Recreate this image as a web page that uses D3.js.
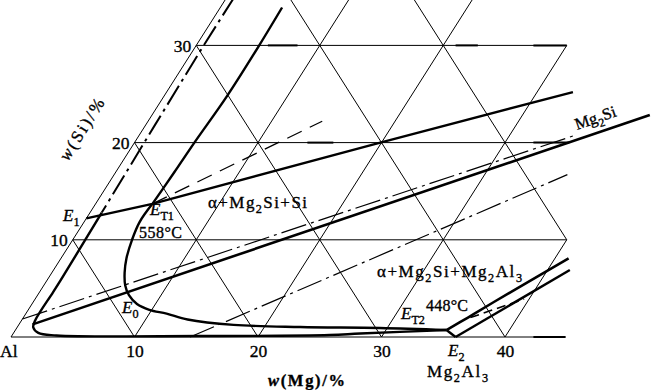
<!DOCTYPE html>
<html><head><meta charset="utf-8">
<script src="https://cdn.jsdelivr.net/npm/d3@7/dist/d3.min.js"></script>
<style>body{margin:0;background:#fff}svg{display:block}text{font-family:"Liberation Serif","DejaVu Serif",serif;fill:#000;stroke:#000;stroke-width:0.35px}</style>
</head><body>
<svg id="c" width="651" height="390"></svg>
<script>
// ---- data (w(Mg) %, w(Si) %) ----
const mgTicks = [10, 20, 30, 40];
const siTicks = [10, 20, 30];
const gridLines = [
  [[0,0],[44.9,0]], [[0,10],[40,10]], [[0,20],[35.2,20]], [[0,30],[30,30]],
  [[0,0],[0,35]], [[10,0],[10,35]], [[20,0],[20,35]], [[30,0],[30,30]], [[40,0],[40,10]],
  [[10,0],[0,10]], [[20,0],[0,20]], [[30,0],[0,30]], [[40,0],[5,35]], [[40,10],[15,35]]
];
const gridAccents = [
  [[5.8,30],[8.2,30]], [[21,30],[22.8,30]], [[27.3,30],[30,30]],
  [[14,20],[16.1,20]], [[32.3,20],[35.2,20]], [[42.3,0],[44.9,0]]
];
const leftDashDot = [[0.6,35],[0.6,30],[0.75,21.8],[0.95,12.8]];
const alphaBoundary = [[0.95,12.8],[1.1,5.9],[1.1,4.6],[1.1,1.75],[1.3,1.0],[2.0,0.42],[3.6,0.16],[15.2,0.1],[25.7,0.2],[28.1,0.36],[34.9,0.72]];
const e1Line = [[0,12.2],[4.6,13.7],[19.9,20],[32.9,25.2]];
const siLine = [[4.6,13.7],[4.75,17],[4.85,20],[5.1,24.7],[5.1,29.8],[5.0,33.9]];
const et1Curve = [[4.6,13.7],[4.5,11.8],[4.8,10.0],[5.3,8.1],[5.9,6.6],[6.6,5.3],[7.4,4.3],[8.5,3.4],[9.8,2.8],[11.4,2.4],[13.4,1.8],[17.4,1.25],[22.9,1.03],[29.4,0.93],[34.9,0.72]];
const et2E2 = [[34.9,0.72],[36.0,0]];
const lineA = [[34.9,0.72],[36.0,2.0],[37.3,3.6],[41.1,8.1]];
const lineB = [[36.0,0],[41.8,6.9]];
const dashMid = [[36.2,2.0],[39.6,3.9]];
const mg2siLine = [[1.1,1.3],[40.3,22.85]];
const ddUpper = [[0,1.85],[35.2,20.7]];
const ddLower = [[14.5,0],[36.7,16.7]];
const dashET1 = [[4.6,13.7],[14.1,22.2]];

// ---- scales ----
const xs = d3.scaleLinear().domain([0,45]).range([11, 11 + 45*12.35]);
const ys = d3.scaleLinear().domain([0,30]).range([337, 337 - 30*9.72]);
const px = d => xs(d[0] + d[1]/2), py = d => ys(d[1]);
const lin = d3.line().x(px).y(py);
const smooth = d3.line().x(px).y(py).curve(d3.curveCatmullRom.alpha(0.5));

const svg = d3.select('#c');
const g = svg.append('g').attr('fill','none').attr('stroke','#000').attr('stroke-linecap','butt');

g.selectAll('.grid').data(gridLines).join('path').attr('d', lin).attr('stroke-width', 1);
g.selectAll('.acc').data(gridAccents).join('path').attr('d', lin).attr('stroke-width', 2);

function draw(data, w, dash, curve){
  g.append('path').attr('d', (curve ? smooth : lin)(data)).attr('stroke-width', w)
   .attr('stroke-dasharray', dash || null).attr('stroke-linejoin','round');
}
draw(leftDashDot, 2, '22,5,3,5');
draw(alphaBoundary, 2.4, null, true);
draw(e1Line, 2.4);
draw(siLine, 2.4, null, true);
draw(et1Curve, 2.4, null, true);
draw(et2E2, 2.4);
draw(lineA, 2.6, null, true);
draw(lineB, 2.4);
draw(dashMid, 1.6, '9,5');
draw(mg2siLine, 2.6);
draw(ddUpper, 1.2, '26,5,3,5');
draw(ddLower, 1.2, '26,5,3,5');
draw(dashET1, 1.3, '16,9');

// ---- axes ----
const ax = svg.append('g').attr('transform','translate(0,337)')
  .call(d3.axisBottom(xs).tickValues(mgTicks).tickSize(0).tickPadding(7.5));
ax.select('.domain').remove();
ax.selectAll('text').attr('font-size', 17.5).attr('font-family','"Liberation Serif",serif')
  .attr('fill','#000').attr('stroke','#000').attr('stroke-width',0.35);

svg.selectAll('.sitick').data(siTicks).join('text')
  .attr('x', d => px([0,d]) - 5).attr('y', d => py([0,d]) + 6.5)
  .attr('text-anchor','end').attr('font-size', 17.5).text(d => d);

// ---- labels ----
function label(x, y, parts, size, opts={}){
  const t = svg.append('text').attr('x', x).attr('y', y).attr('font-size', size);
  if (opts.len) t.attr('textLength', opts.len).attr('lengthAdjust','spacing');
  if (opts.rot) t.attr('transform', `rotate(${opts.rot},${x},${y})`);
  if (opts.weight) t.attr('font-weight', opts.weight);
  let shift = 0;
  parts.forEach(([s, kind]) => {
    const ts = t.append('tspan').text(s);
    const want = kind === 'sub' ? size*0.3 : 0;
    ts.attr('dy', want - shift); shift = want;
    if (kind === 'sub') ts.attr('font-size', size*0.72);
    if (kind === 'it') ts.attr('font-style','italic');
  });
  return t;
}
label(0, 357, [['Al']], 17.5);
label(448, 356, [['E','it'],['2','sub']], 17);
label(427, 377, [['Mg'],['2','sub'],['Al'],['3','sub']], 17, {len: 61});
label(268, 386, [['w','it'],['(Mg)/%']], 16.5, {len: 77, weight: 'bold'});
label(68, 162, [['w','it'],['(Si)/%']], 17, {len: 70, rot: -58});
label(577, 130, [['Mg'],['2','sub'],['Si']], 16.5, {rot: -19});
label(63, 221, [['E','it'],['1','sub']], 17);
label(150, 215, [['E','it'],['T1','sub']], 17);
label(139, 238, [['558°C']], 16, {len: 43});
label(122, 313, [['E','it'],['0','sub']], 17);
label(401, 319, [['E','it'],['T2','sub']], 17);
label(426, 311, [['448°C']], 16, {len: 42});
label(208, 208, [['α+Mg'],['2','sub'],['Si+Si']], 17, {len: 99});
label(377, 277, [['α+Mg'],['2','sub'],['Si+Mg'],['2','sub'],['Al'],['3','sub']], 17, {len: 145});
</script>
</body></html>
